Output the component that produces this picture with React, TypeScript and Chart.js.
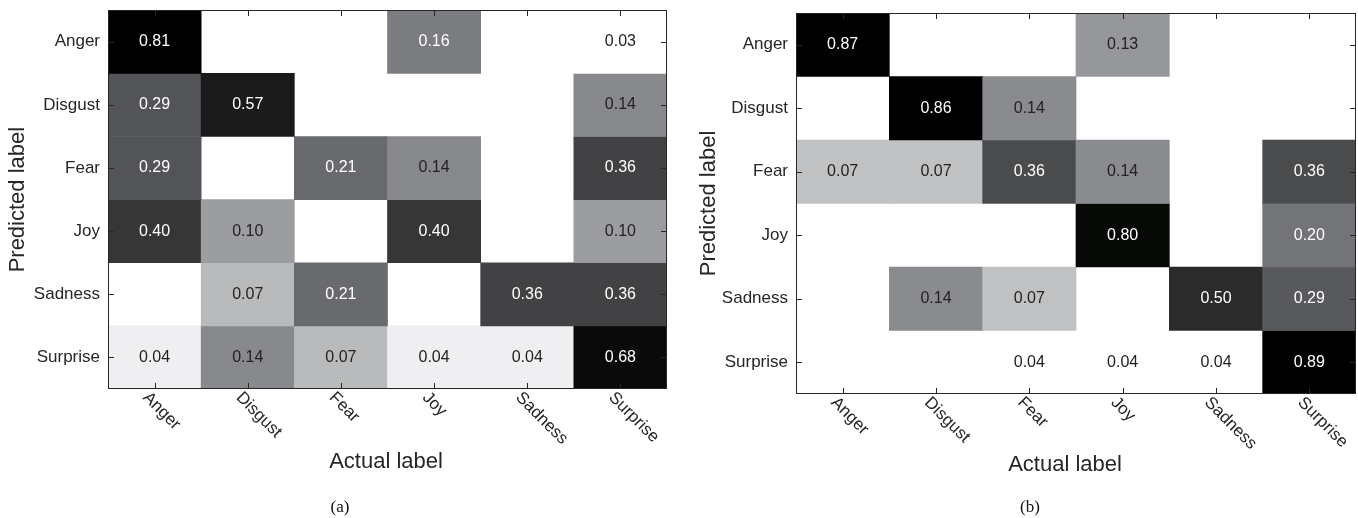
import React, { useEffect, useRef } from 'react';
import { Chart, registerables } from 'chart.js';

Chart.register(...registerables);

// ---------- data ----------
const classLabels = ['Anger', 'Disgust', 'Fear', 'Joy', 'Sadness', 'Surprise'];
const xAxisTitle = 'Actual label';
const yAxisTitle = 'Predicted label';

// rows = predicted label, columns = actual label
const matrixA = [
  [0.81, 0, 0, 0.16, 0, 0.03],
  [0.29, 0.57, 0, 0, 0, 0.14],
  [0.29, 0, 0.21, 0.14, 0, 0.36],
  [0.40, 0.10, 0, 0.40, 0, 0.10],
  [0, 0.07, 0.21, 0, 0.36, 0.36],
  [0.04, 0.14, 0.07, 0.04, 0.04, 0.68],
];

const matrixB = [
  [0.87, 0, 0, 0.13, 0, 0],
  [0, 0.86, 0.14, 0, 0, 0],
  [0.07, 0.07, 0.36, 0.14, 0, 0.36],
  [0, 0, 0, 0.80, 0, 0.20],
  [0, 0.14, 0.07, 0, 0.50, 0.29],
  [0, 0, 0.04, 0.04, 0.04, 0.89],
];

// ---------- colour maps (value -> grey) ----------
const shadesA: [number, string][] = [
  [0.03, '#ffffff'], [0.04, '#efeef0'], [0.07, '#b9babc'], [0.10, '#9c9da0'],
  [0.14, '#88898c'], [0.16, '#7b7c80'], [0.21, '#696a6d'], [0.29, '#535457'],
  [0.36, '#424244'], [0.40, '#363636'], [0.57, '#1b1b1b'], [0.68, '#0a0a0a'],
  [0.81, '#000000'],
];
const shadesB: [number, string][] = [
  [0.04, '#ffffff'], [0.07, '#c0c1c3'], [0.13, '#96979a'], [0.14, '#8a8b8e'],
  [0.20, '#737477'], [0.29, '#58595c'], [0.36, '#4a4b4d'], [0.50, '#2b2b2b'],
  [0.80, '#070907'], [0.86, '#000000'], [0.87, '#000000'], [0.89, '#000000'],
];

const FONT = '"Liberation Sans", Arial, Helvetica, sans-serif';
const AXIS = '#262626';

function shadeFor(v: number, shades: [number, string][]) {
  let best = shades[0];
  for (const s of shades) if (Math.abs(s[0] - v) < Math.abs(best[0] - v)) best = s;
  return best[1];
}
function isDark(hex: string) {
  const n = parseInt(hex.slice(1), 16);
  const r = (n >> 16) & 255, g = (n >> 8) & 255, b = n & 255;
  return 0.299 * r + 0.587 * g + 0.114 * b < 128;
}

const decorPlugin = {
  id: 'cmDecor',
  afterDatasetsDraw(chart: any) {
    const { ctx, chartArea: a, scales } = chart;
    const xs = scales.x;
    const ys = scales.y;
    const cfg = chart.options.plugins.cmDecor || {};
    ctx.save();
    // cell values
    ctx.font = `16px ${FONT}`;
    ctx.textAlign = 'center';
    ctx.textBaseline = 'middle';
    chart.data.datasets.forEach((ds: any, di: number) => {
      const meta = chart.getDatasetMeta(di);
      meta.data.forEach((el: any, j: number) => {
        const v = ds.cellValues[j];
        if (!v) return;
        const { x, y, base } = el.getProps(['x', 'y', 'base'], true);
        ctx.fillStyle = ds.textColors[j];
        ctx.fillText(v.toFixed(2), x, (y + base) / 2);
      });
    });
    // box
    const L = Math.round(a.left), R = Math.round(a.right), T = Math.round(a.top), B = Math.round(a.bottom);
    ctx.strokeStyle = AXIS;
    ctx.lineWidth = 1;
    ctx.strokeRect(L + 0.5, T + 0.5, R - L - 1, B - T - 1);
    // inward ticks
    const tl = 6;
    ctx.beginPath();
    classLabels.forEach((_, i) => {
      const px = Math.round(xs.getPixelForValue(i)) + 0.5;
      ctx.moveTo(px, B); ctx.lineTo(px, B - tl);
      ctx.moveTo(px, T); ctx.lineTo(px, T + tl);
      const py = Math.round(ys.getPixelForValue(i)) + 0.5;
      ctx.moveTo(L, py); ctx.lineTo(L + tl, py);
      ctx.moveTo(R, py); ctx.lineTo(R - tl, py);
    });
    ctx.stroke();
    // rotated x tick labels
    ctx.fillStyle = AXIS;
    ctx.font = `17px ${FONT}`;
    ctx.textAlign = 'left';
    ctx.textBaseline = 'middle';
    classLabels.forEach((lab, i) => {
      const px = xs.getPixelForValue(i);
      ctx.save();
      ctx.translate(px - 9, B + 6);
      ctx.rotate(Math.PI / 4);
      ctx.fillText(lab, 0, 0);
      ctx.restore();
    });
    // x axis title
    ctx.font = `22px ${FONT}`;
    ctx.textAlign = 'center';
    ctx.textBaseline = 'middle';
    ctx.fillText(xAxisTitle, cfg.xTitleX, cfg.xTitleY);
    ctx.restore();
  },
};

type Layout = {
  width: number; padTop: number; padRight: number;
  yAxisWidth: number; xAxisHeight: number; yTitlePad: number; xTitleX: number; xTitleY: number;
};

const layoutA: Layout = { width: 680, padTop: 9, padRight: 13, yAxisWidth: 108, xAxisHeight: 129, yTitlePad: 5, xTitleX: 386, xTitleY: 462 };
const layoutB: Layout = { width: 678, padTop: 13, padRight: 2, yAxisWidth: 116, xAxisHeight: 124, yTitlePad: 16, xTitleX: 385, xTitleY: 465 };

function Confusion({ matrix, shades, layout, left }: { matrix: number[][]; shades: [number, string][]; layout: Layout; left: number }) {
  const ref = useRef<HTMLCanvasElement>(null);
  useEffect(() => {
    if (!ref.current) return;
    const datasets = matrix.map((row, r) => {
      const colors = row.map((v) => (v ? shadeFor(v, shades) : '#ffffff'));
      return {
        label: classLabels[r],
        data: row.map((v) => (v ? [r - 0.5, r + 0.5] : null)),
        backgroundColor: colors,
        borderWidth: 0,
        grouped: false,
        barPercentage: 1,
        categoryPercentage: 1,
        cellValues: row,
        textColors: colors.map((c) => (isDark(c) ? '#ffffff' : '#222222')),
      };
    });
    const chart = new Chart(ref.current, {
      type: 'bar',
      data: { labels: classLabels, datasets } as any,
      plugins: [decorPlugin],
      options: {
        responsive: false,
        animation: false,
        devicePixelRatio: 1,
        layout: { padding: { top: layout.padTop, right: layout.padRight, left: 0, bottom: 0 } },
        plugins: {
          legend: { display: false },
          tooltip: { enabled: false },
          title: { display: false },
          cmDecor: { xTitleX: layout.xTitleX, xTitleY: layout.xTitleY },
        },
        scales: {
          x: {
            type: 'category',
            offset: true,
            grid: { display: false },
            border: { display: false },
            ticks: { display: false },
            title: { display: false },
            afterFit: (s: any) => { s.height = layout.xAxisHeight; },
          },
          y: {
            type: 'linear',
            min: -0.5,
            max: 5.5,
            reverse: true,
            grid: { display: false },
            border: { display: false },
            afterBuildTicks: (s: any) => { s.ticks = classLabels.map((_, i) => ({ value: i })); },
            ticks: {
              color: AXIS, font: { family: FONT, size: 17 }, padding: 0, autoSkip: false,
              callback: (v: any) => classLabels[v] ?? '',
            },
            title: {
              display: true, text: yAxisTitle, color: AXIS,
              font: { family: FONT, size: 22 }, padding: { top: layout.yTitlePad, bottom: 0 },
            },
            afterFit: (s: any) => { s.width = layout.yAxisWidth; },
          },
        },
      } as any,
    });
    return () => chart.destroy();
  }, [matrix, shades, layout]);
  return (
    <canvas
      ref={ref}
      width={layout.width}
      height={518}
      style={{ position: 'absolute', left, top: 0, display: 'block' }}
    />
  );
}

const captionStyle = (cx: number): React.CSSProperties => ({
  position: 'absolute', left: cx - 30, width: 60, top: 497, height: 20, lineHeight: '20px',
  textAlign: 'center', fontFamily: '"Liberation Serif", "Times New Roman", serif', fontSize: 17, color: '#111',
});

export default function App() {
  return (
    <div style={{ position: 'absolute', left: 0, top: 0, width: 1358, height: 518, background: '#ffffff', overflow: 'hidden' }}>
      <Confusion matrix={matrixA} shades={shadesA} layout={layoutA} left={0} />
      <Confusion matrix={matrixB} shades={shadesB} layout={layoutB} left={680} />
      <div style={captionStyle(340)}>(a)</div>
      <div style={captionStyle(1030)}>(b)</div>
    </div>
  );
}
